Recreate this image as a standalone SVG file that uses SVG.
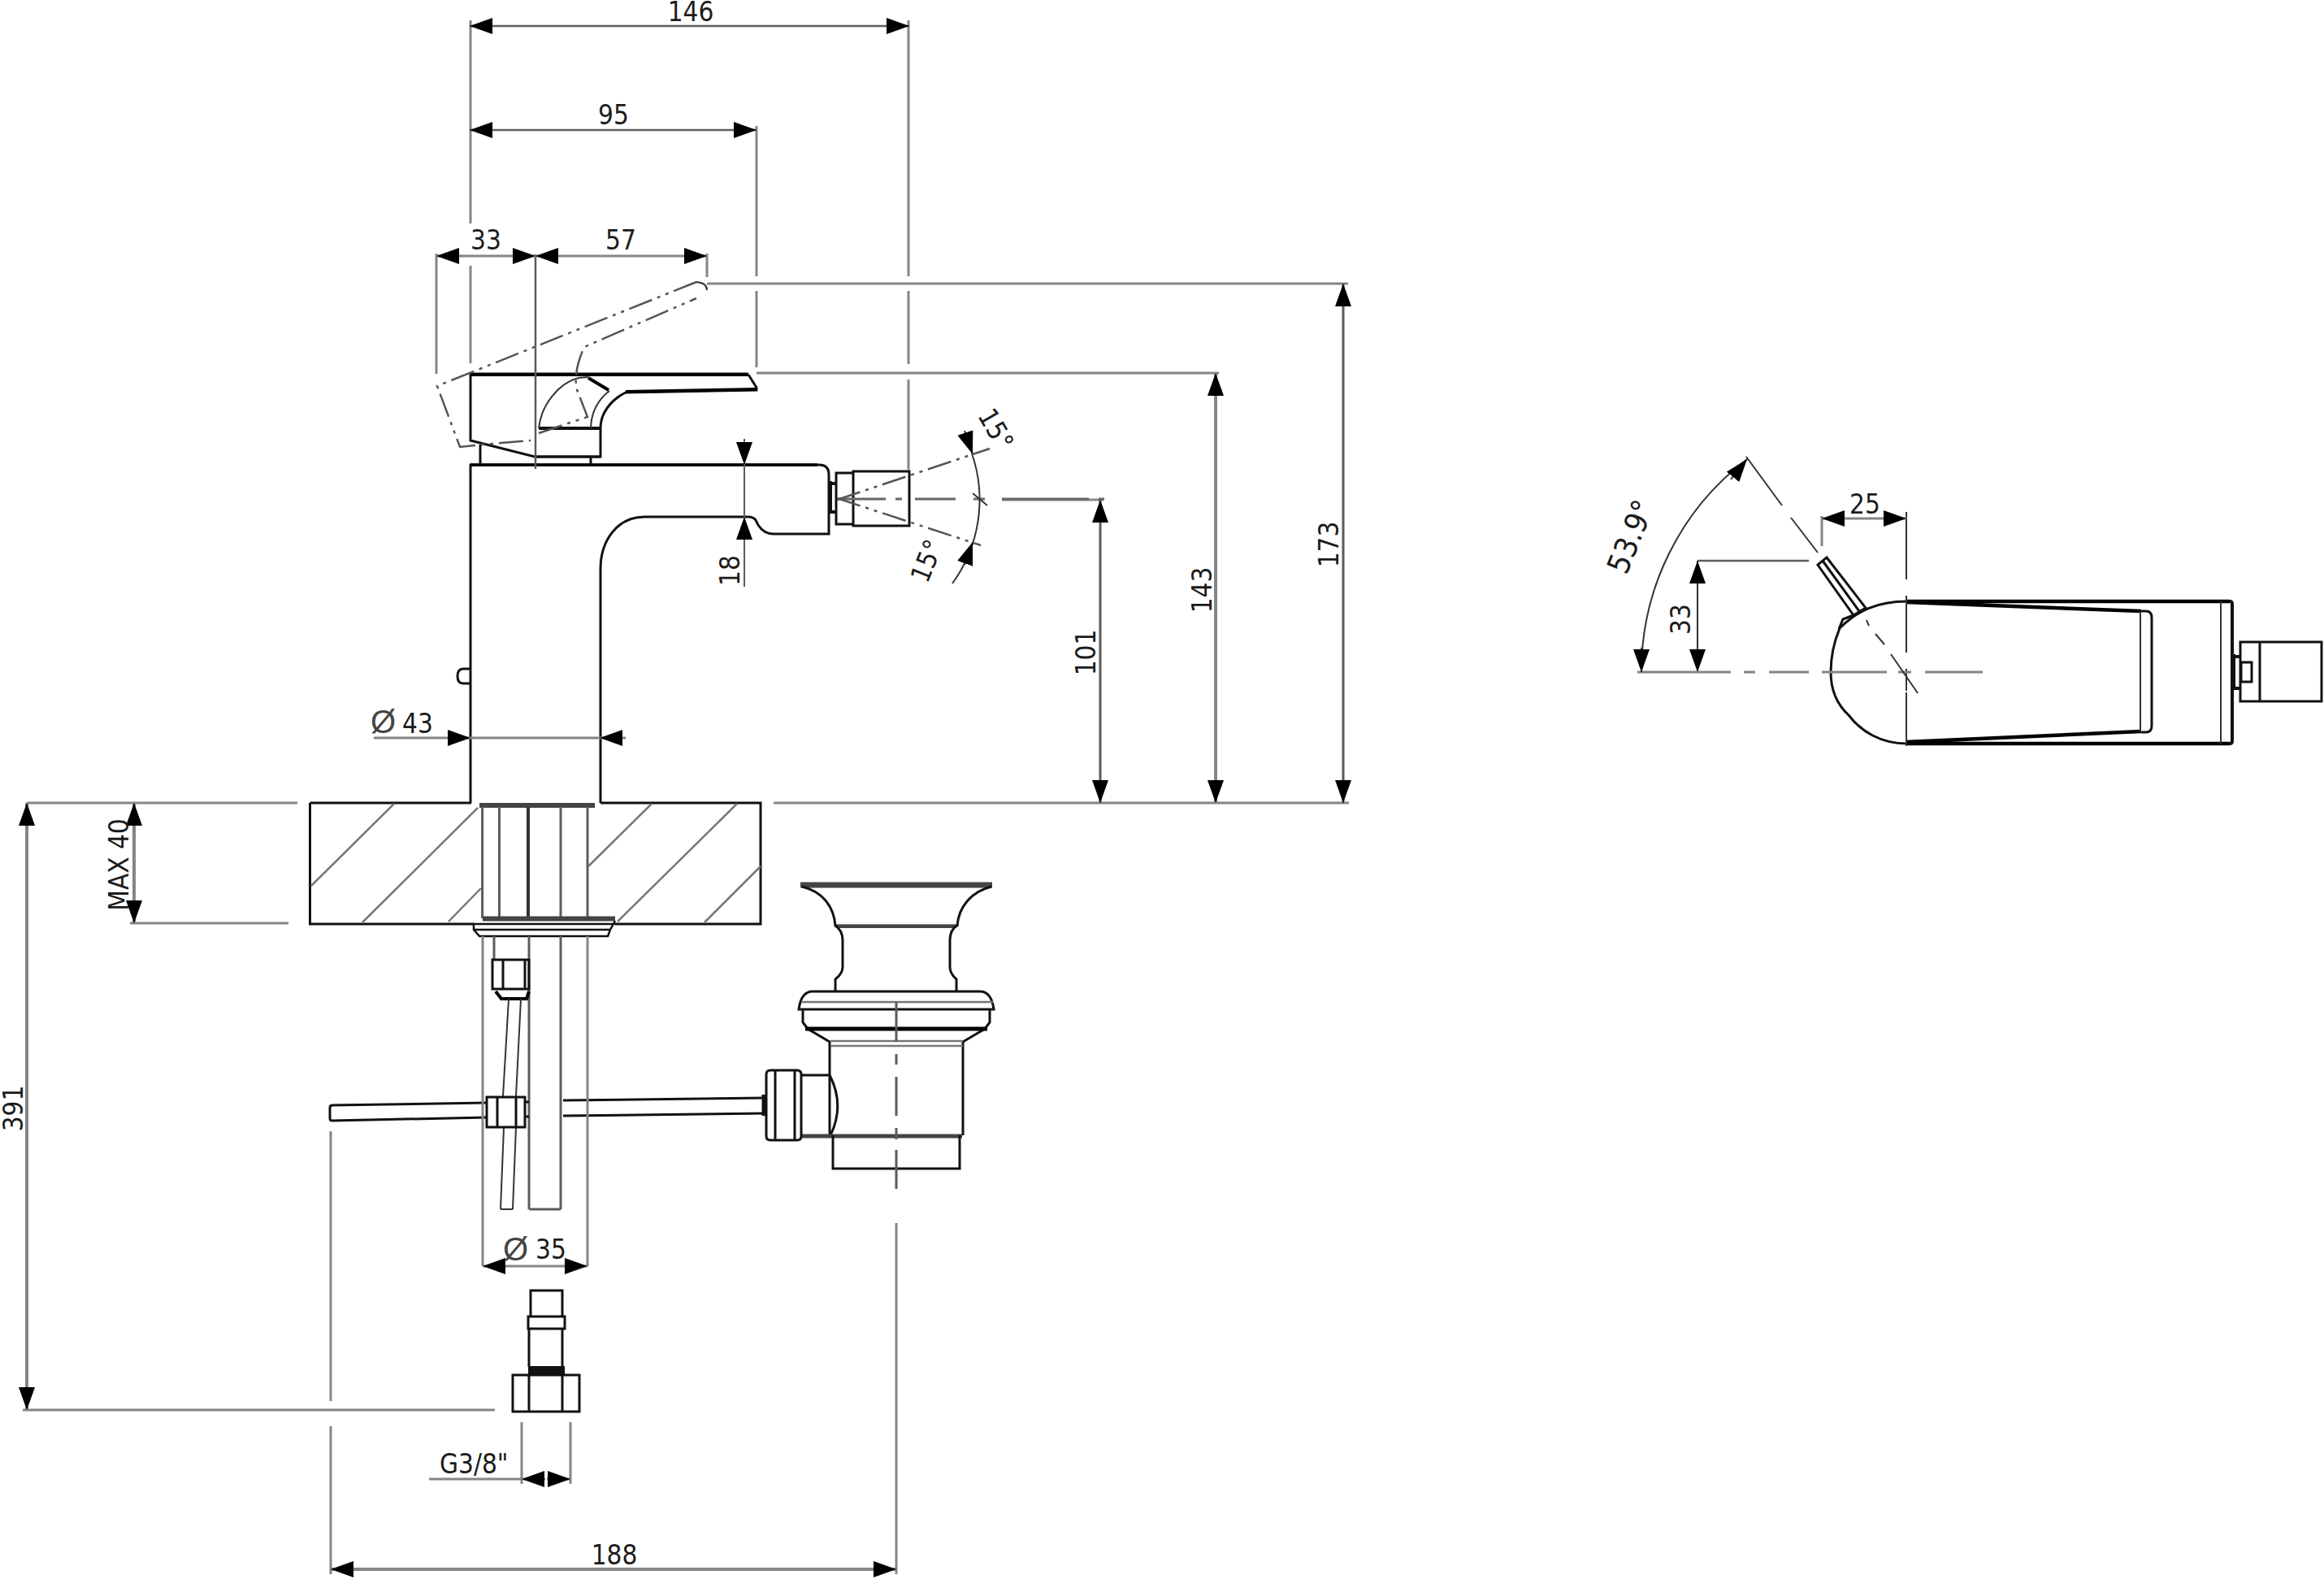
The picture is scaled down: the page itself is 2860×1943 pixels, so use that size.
<svg xmlns="http://www.w3.org/2000/svg" width="2860" height="1943" viewBox="0 0 2860 1943">
<style>
text{font-family:"DejaVu Sans Condensed","DejaVu Sans","Liberation Sans",sans-serif;font-stretch:condensed;font-size:33px;fill:#1c1c1c;text-anchor:middle}
.s{text-anchor:start}
.d{font-family:"Liberation Sans",sans-serif;font-size:40px;font-stretch:normal;fill:#444}
path,line,rect,polyline{fill:none;stroke-linecap:butt}
.o{stroke:#111;stroke-width:3}
.b{stroke:#000;stroke-width:4.5}
.h{stroke:#444;stroke-width:6}
.t{stroke:#333;stroke-width:2}
.g{stroke:#777;stroke-width:2.5}
.e{stroke:#858585;stroke-width:3}
.x{stroke:#5c5c5c;stroke-width:3}
.ph{stroke:#555;stroke-width:2.5;stroke-dasharray:30 7 4 7 4 7}
.c{stroke:#666;stroke-width:3;stroke-dasharray:34 12 8 12}
.a{marker-end:url(#ah)}
.aa{marker-start:url(#ah);marker-end:url(#ah)}
</style>
<defs>
<marker id="ah" markerUnits="userSpaceOnUse" markerWidth="30" markerHeight="22" refX="28" refY="10.5" orient="auto-start-reverse">
<path d="M0,0.5 L28,10.5 L0,20.5 Z" style="fill:#000;stroke:none"/>
</marker>
</defs>

<g id="plate">
<path class="o" d="M381.5,988H580M739,988H936V1137H757M583,1137H381.5V988"/>
<path class="g" d="M485,989L383,1090M588,994L446,1135M592,1093L552,1134M802,989L724,1066M907,989L760,1134M936,1066L867,1135"/>
</g>

<g id="faucet-body">
<path class="o" d="M579,988V572H1008Q1020,572 1020,584V657H952Q940,657 933,646L930,640Q927,636 921,636H793C760,636 739,665 739,700V988"/>
<path class="b" d="M579,572H1006" style="stroke-width:3.5"/>
<path class="o" d="M579,823H570Q563,823 563,832Q563,841 570,841H579"/>
</g>

<g id="handle">
<path class="o" d="M921,461L931,477L931,480L770,483C752,492 739,508 739,527V562H658L579,542V460H921"/>
<path class="b" d="M579,461H921M770,482L931,479M724,465L749,480" style="stroke-width:4"/>
<path class="o" d="M663,527H739" style="stroke-width:4"/>
<path class="t" d="M663,527C666,498 688,471 712,465L724,464M750,481C738,490 727,506 727,527"/>
<path class="o" d="M658,562H739M591,547V570M727,563V572"/>
</g>

<g id="handle-raised">
<path class="ph" d="M857,347L538,475L566,550L594,547L653,542M663,533L723,513L709,477C708,460 710,447 719,427L857,367"/>
<path class="t" d="M857,347Q870,348 870,357"/>
</g>

<g id="aerator">
<path class="o" d="M1029,582H1050V580H1119V647H1050V645H1029ZM1050,580V647"/>
<path class="o" d="M1022,592V632M1022,595H1029M1022,630H1029" style="stroke-width:4"/>
</g>

<g id="mounting">
<path class="h" d="M590,991H732" style="stroke-width:6"/>
<path class="x" d="M593.6,993V1130M614.5,993V1130M690,993V1130M723,993V1130"/>
<path class="o" d="M650,993V1130" style="stroke:#333;stroke-width:4"/>
<path class="h" d="M594,1130.5H757"/>
<path class="o" d="M757,1133L751,1144L748,1152H590L583,1144V1137H757M583,1144H751" style="stroke-width:2.5"/>
<path class="x" d="M690,1152V1488M651,1152V1488M651,1488H690M608,1152V1181"/>
</g>

<g id="supply-hose">
<path class="o" d="M606,1181H651V1217H606ZM619,1181V1217M646,1181V1217"/>
<path class="b" d="M610,1220L617,1229H648L651,1220" style="stroke-width:4"/>
<path class="t" d="M626,1229L619,1349M641,1229L635,1349M620,1387L616,1488M635,1387L631,1488M616,1488H631"/>
<path class="o" d="M599,1350H646V1387H599ZM612,1350V1387M635,1350V1387"/>
</g>

<g id="pop-up-rod">
<path class="o" d="M599,1357L409,1360Q406,1360 406,1363V1376Q406,1379 409,1379L599,1375M646,1356H651M646,1374H651M693,1354L940,1351M693,1373L940,1370"/>
<path class="o" d="M940,1347V1373" style="stroke-width:5"/>
</g>

<g id="waste">
<path class="h" d="M985,1089H1221" style="stroke-width:7"/>
<path class="o" d="M987,1091C1012,1097 1026,1115 1028,1139H1178C1180,1115 1196,1097 1220,1091"/>
<path class="h" d="M1030,1140H1177" style="stroke-width:4"/>
<path class="o" d="M1028,1139Q1037,1145 1037,1157V1190Q1037,1198 1028,1205V1220M1177,1139Q1169,1145 1169,1157V1190Q1169,1198 1177,1205V1220"/>
<path class="o" d="M983,1242Q986,1220 1000,1220H1206Q1220,1220 1223,1242ZM988,1242V1258L994,1266L1021,1282V1397M1218,1242V1258L1212,1266L1185,1282V1397"/>
<path class="g" d="M986,1233H1222M1022,1281H1185M1022,1287H1185"/>
<path class="b" d="M991,1266H1215" style="stroke-width:5"/>
<path class="o" d="M986,1323H1021Q1040,1360 1022,1397"/>
<path class="h" d="M986,1398H1184" style="stroke-width:5;stroke:#444"/>
<path class="o" d="M948,1317H981Q986,1317 986,1322V1398Q986,1403 981,1403H948Q943,1403 943,1398V1322Q943,1317 948,1317ZM954,1317V1403M978,1317V1403"/>
<path class="o" d="M1025,1397V1438H1181V1397"/>
</g>

<g id="connector-fitting">
<path class="o" d="M653,1620V1588H692V1620"/>
<rect class="o" x="650" y="1620" width="45" height="15"/>
<path class="o" d="M651,1635V1682M692,1635V1682"/>
<rect x="650" y="1681" width="45" height="10" style="fill:#111;stroke:none"/>
<path class="o" d="M631,1692H713V1737H631ZM651,1692V1737M692,1692V1737"/>
</g>

<g id="top-view">
<path class="o" d="M2346,740C2310,740 2285,752 2264,773C2257,790 2253,810 2253,827C2253,850 2262,868 2275,880C2290,900 2315,915 2346,915"/>
<path class="b" d="M2346,740H2744M2346,915H2744M2346,741L2635,752M2346,913L2635,900"/>
<path class="o" d="M2635,752H2641Q2648,752 2648,760V893Q2648,901 2641,901H2635"/>
<path class="t" d="M2634,752V901M2733,740V915"/>
<path class="o" d="M2744,740Q2747,740 2747,743V912Q2747,915 2744,915" style="stroke-width:4"/>
<path class="o" d="M2248,686L2237,695L2281,757L2296,748ZM2243,690L2288,752"/>
<path class="o" d="M2263,774L2268,762L2281,757"/>
</g>

<g id="top-view-aerator">
<path class="o" d="M2757,790H2857V863H2757ZM2781,790V863"/>
<path class="o" d="M2749,805V849M2749,808H2757M2749,847H2757" style="stroke-width:4"/>
<rect class="o" x="2758" y="815" width="13" height="24"/>
</g>

<g id="connectors">
<path class="e" d="M579,25V275M579,327V447M931,155V340M931,358V452M1118,25V340M1118,358V448M1118,467V578M537,312V460M870,312V341M870,349H1659M931,459H1500"/>
<path class="x" d="M659,313V577" style="stroke-width:2.5"/>
<path class="e" d="M1233,615H1358M33,988H366M952,988H1660M160,1136H355M28,1735H609M594,1152V1558M723,1152V1558M407,1392V1724M407,1755V1937M1103,1505V1937M642,1750V1826M702,1750V1826"/>
<line class="x aa" x1="578" y1="32" x2="1119" y2="32" style="stroke-width:2.5"/>
<line class="x aa" x1="578" y1="160" x2="931" y2="160" style="stroke-width:2.5"/>
<line class="e aa" x1="537" y1="315" x2="659" y2="315"/>
<line class="e aa" x1="659" y1="315" x2="870" y2="315"/>
<line class="e aa" x1="407" y1="1931" x2="1103" y2="1931" style="stroke-width:4"/>
<line class="e a" x1="460" y1="908" x2="579" y2="908"/>
<line class="e" x1="579" y1="908" x2="738" y2="908"/>
<line class="e a" x1="770" y1="908" x2="738" y2="908"/>
<line class="e aa" x1="594" y1="1558" x2="723" y2="1558"/>
<line class="e" x1="528" y1="1820" x2="642" y2="1820"/>
<line class="e a" x1="671" y1="1820" x2="642" y2="1820"/>
<line class="e a" x1="673" y1="1820" x2="702" y2="1820"/>
<line class="x aa" x1="1653" y1="349" x2="1653" y2="988"/>
<line class="e aa" x1="1496" y1="459" x2="1496" y2="988" style="stroke-width:4"/>
<line class="x aa" x1="1354" y1="615" x2="1354" y2="988"/>
<line class="e aa" x1="33" y1="988" x2="33" y2="1735" style="stroke-width:4"/>
<line class="e aa" x1="165" y1="988" x2="165" y2="1136" style="stroke-width:4"/>
<line class="x a" x1="916" y1="540" x2="916" y2="572" style="stroke-width:2"/>
<line class="x" x1="916" y1="572" x2="916" y2="636" style="stroke-width:2"/>
<line class="x a" x1="916" y1="722" x2="916" y2="636" style="stroke-width:2"/>
<path class="c" d="M1030,614H1212M1233,614H1280M1280,614H1359" style="stroke-dasharray:60 12 8 16 50 22 130 0"/>
<path class="ph" d="M1030,615L1218,552M1030,613L1207,671"/>
<path class="t" d="M1197,607L1215,622M1172,718A175,175 0 0 0 1196,558"/>
<line class="t a" x1="1187" y1="530" x2="1197" y2="559"/>
<line class="t a" x1="1187" y1="695" x2="1197" y2="667"/>
<path class="x" d="M1103,1233V1282M1103,1297V1310M1103,1325V1373M1103,1388V1402M1103,1415V1463"/>
<path class="e" d="M2242,635V672"/>
<path class="t" d="M2346,630V713M2346,733V803M2346,823V850M2346,852V918"/>
<line class="e aa" x1="2242" y1="638" x2="2346" y2="638"/>
<path class="x" d="M2089,690H2226" style="stroke-width:2.5"/>
<line class="t aa" x1="2089" y1="690" x2="2089" y2="827"/>
<path class="e" d="M2015,827H2130M2146,827H2160M2177,827H2226M2242,827H2322M2336,827H2352M2369,827H2440"/>
<path class="t" d="M2149,562L2193,622M2204,637L2237,680M2297,763L2300,770M2308,780L2319,793M2327,805L2360,853"/>
<path class="t" d="M2020,827A328,328 0 0 1 2150,565"/>
<line class="t a" x1="2020" y1="797" x2="2020" y2="827"/>
<line class="t a" x1="2130" y1="590" x2="2150" y2="565"/>
</g>

<g id="labels">
<text x="850" y="26">146</text>
<text x="755" y="153">95</text>
<text x="598" y="307">33</text>
<text x="764" y="307">57</text>
<text transform="translate(1647,670) rotate(-90)">173</text>
<text transform="translate(1491,726) rotate(-90)">143</text>
<text transform="translate(1348,803) rotate(-90)">101</text>
<text transform="translate(910,702) rotate(-90)">18</text>
<text transform="translate(1226,528) rotate(60) translate(0,12)">15°</text>
<text transform="translate(1140,690) rotate(-68) translate(0,12)">15°</text>
<text class="s" x="456" y="902"><tspan class="d">Ø</tspan><tspan x="495">43</tspan></text>
<text class="s" x="619" y="1551"><tspan class="d">Ø</tspan><tspan x="659" y="1549">35</tspan></text>
<text transform="translate(158,1064) rotate(-90)">MAX 40</text>
<text transform="translate(28,1364) rotate(-90)">391</text>
<text class="s" x="541" y="1813">G3/8"</text>
<text x="756" y="1925">188</text>
<text style="font-size:38px" transform="translate(2006,660) rotate(-68) translate(0,14)">53.9°</text>
<text x="2295" y="632">25</text>
<text transform="translate(2080,762) rotate(-90)">33</text>
</g>
</svg>
